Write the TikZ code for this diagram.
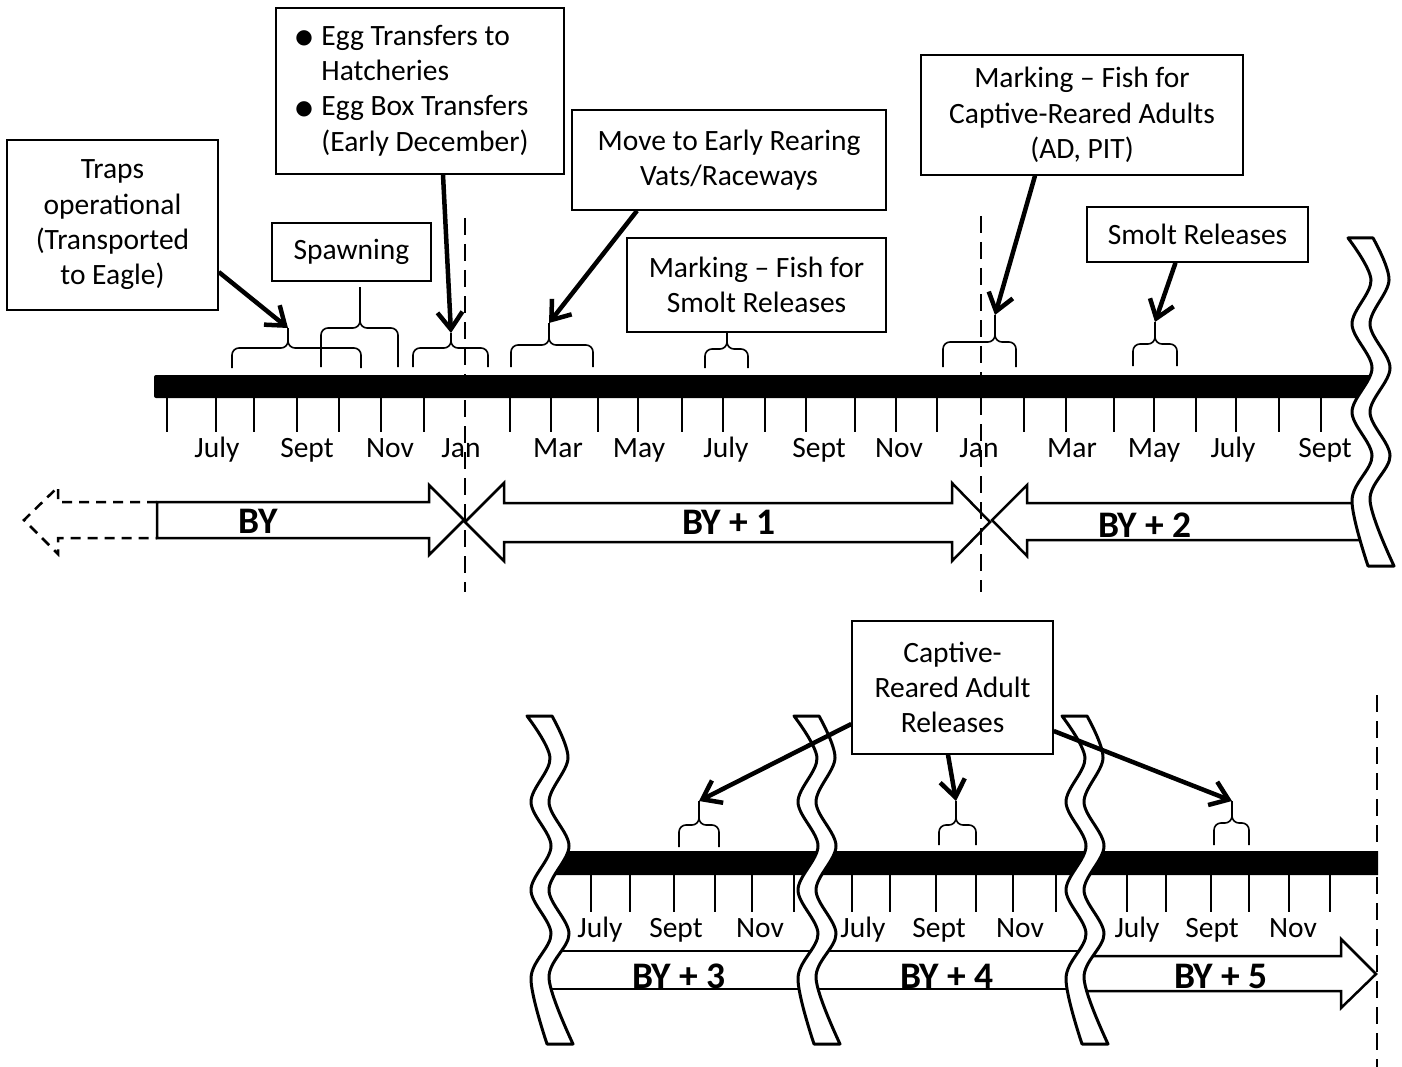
\documentclass[tikz,border=0pt]{standalone}
\usepackage{fontspec}
\setmainfont{Carlito}
\newfontfamily\dejavu{DejaVu Sans}
\usetikzlibrary{arrows.meta}
\tikzset{
  box/.style={draw, line width=1.5pt, fill=white, inner sep=0pt, align=center, font=\fontsize{29.5}{35.3}\selectfont},
  mon/.style={inner sep=0pt, anchor=base, font=\fontsize{29.5}{33}\selectfont},
  bylab/.style={inner sep=0pt, anchor=base, font=\bfseries\fontsize{37.5}{40}\selectfont},
  brc/.style={line width=1.6pt, rounded corners=7pt},
  tck/.style={line width=2pt},
  janline/.style={line width=2.2pt, dash pattern=on 17pt off 9pt},
  blk/.style={draw, line width=2.5pt, fill=white, line join=miter, miter limit=10},
  blkdash/.style={draw, line width=2.5pt, dash pattern=on 10pt off 7pt},
  arr/.style={line width=4.5pt, -{Straight Barb[length=17pt,width=25pt]}},
  brkline/.style={draw, line width=3pt, fill=white, line join=round},
}
\newcommand\mybrace[7]{%
  \draw[brc] (#2,#7) -- (#2,#5) -- (#4,#5) -- (#4,#6);
  \draw[brc] (#3,#7) -- (#3,#5) -- (#4,#5) -- (#4,#6);
  \coordinate (#1) at (#4,#6);}
\newcommand\mybreak[1]{%
  \begin{scope}[shift={#1}]
  \path[brkline] plot[smooth,tension=0.55] coordinates {(0,0) (23,42) (4,86) (24,130) (4,174) (24,218) (4,262) (20,328)}
     -- (46,328) -- plot[smooth,tension=0.55] coordinates {(46,328) (22,262) (42,218) (22,174) (42,130) (22,86) (41,42) (25,0)} -- cycle;
  \end{scope}}
\newcommand\eggbullet{\makebox[26pt][l]{\raisebox{1.5pt}{\dejavu\fontsize{20}{20}\selectfont ●}}}
\begin{document}
\begin{tikzpicture}[x=1pt,y=-1pt]
\useasboundingbox[fill=white] (0,0) rectangle (1402,1067);

% ---------- top timeline ----------
\fill[rounded corners=2pt] (154,375) -- (1378,375) -- (1366,398) -- (154,398) -- cycle;
\foreach \x in {167,216,254,297,339,381,424,510,551,598,638,682,723,765,806,855,896,937,1024,1066,1114,1154,1196,1236,1279,1321}
  \draw[tck] (\x,398) -- (\x,432);
\foreach \x/\t [count=\i] in {217/July,307/Sept,390/Nov,461/Jan,558/Mar,639/May,726/July,819/Sept,899/Nov,979/Jan,1072/Mar,1154/May,1233/July,1325/Sept}
  \node[mon] (mt\i) at (\x,457) {\t};

% BY arrows (top)
\path[blkdash] (157,502) -- (58,502) -- (58,487) -- (24,520) -- (58,554) -- (58,538) -- (157,538);
\path[blk] (157,502) -- (429,502) -- (429,485) -- (464,520) -- (429,555) -- (429,538) -- (157,538) -- cycle;
\path[blk] (465,522) -- (504,483) -- (504,503) -- (952,503) -- (952,483) -- (990,522) -- (952,561) -- (952,542) -- (504,542) -- (504,561) -- cycle;
\path[blk] (1361,503) -- (1027,503) -- (1027,485) -- (992,520) -- (1027,556) -- (1027,540) -- (1371,540);
\node[bylab] (by0) at (258,533) {BY};
\node[bylab] (by1) at (729,534) {BY + 1};
\node[bylab] (by2) at (1145,537) {BY + 2};

% ---------- bottom timeline ----------
\fill (558,851) -- (1378,851) -- (1378,875) -- (546,875) -- cycle;
\foreach \x in {591,630,674,715,752,794,852,890,936,976,1013,1056,1127,1166,1211,1249,1289,1330}
  \draw[tck] (\x,875) -- (\x,912);
\foreach \x/\t [count=\i] in {600/July,676/Sept,760/Nov,863/July,939/Sept,1020/Nov,1137/July,1212/Sept,1293/Nov}
  \node[mon] (mb\i) at (\x,937) {\t};

\draw[line width=2.5pt] (553,951) -- (1088,951);
\draw[line width=2.5pt] (542,989) -- (1077,989);
\path[blk] (1087,956) -- (1341,956) -- (1341,939) -- (1376,974) -- (1341,1008) -- (1341,991) -- (1077,991);
\node[bylab] (by3) at (679,988) {BY + 3};
\node[bylab] (by4) at (947,988) {BY + 4};
\node[bylab] (by5) at (1221,988) {BY + 5};

% ---------- breaks ----------
\mybreak{(1348,238)}
\mybreak{(527,716)}
\mybreak{(794,716)}
\mybreak{(1062,716)}

% ---------- braces ----------
\mybrace{bA}{232}{361}{288}{348}{328}{368}
\mybrace{bB}{321}{398}{360}{328}{287}{367}
\mybrace{bC}{413}{488}{451}{348}{333}{367}
\mybrace{bD}{511}{593}{549}{345}{323}{367}
\mybrace{bE}{705}{748}{727}{349}{332}{368}
\mybrace{bF}{943}{1016}{995}{342}{315}{367}
\mybrace{bG}{1133}{1177}{1155}{344}{322}{366}
\mybrace{cA}{679}{719}{699}{825}{801}{847}
\mybrace{cB}{939}{976}{956}{825}{801}{845}
\mybrace{cC}{1214}{1249}{1232}{823}{801}{845}

% ---------- boxes ----------
\node[box, minimum width=211pt, minimum height=170pt] (traps) at (112.5,225) {Traps\\operational\\(Transported\\to Eagle)};
\node[box, minimum width=288pt, minimum height=166pt] (egg) at (420,91)
  {\begin{tabular}{@{}l@{\hspace{16pt}}}
   \eggbullet Egg Transfers to\\
   \hspace*{26pt}Hatcheries\\
   \eggbullet Egg Box Transfers\\
   \hspace*{26pt}(Early December)
   \end{tabular}};
\node[box, minimum width=159pt, minimum height=58pt] (spawn) at (351.5,252) {Spawning};
\node[box, minimum width=314pt, minimum height=100pt] (move) at (729,160) {Move to Early Rearing\\Vats/Raceways};
\node[box, minimum width=259pt, minimum height=94pt] (msmolt) at (756.5,285) {Marking – Fish for\\Smolt Releases};
\node[box, minimum width=322pt, minimum height=120pt] (mcap) at (1082,115) {Marking – Fish for\\Captive-Reared Adults\\(AD, PIT)};
\node[box, minimum width=221pt, minimum height=55pt] (srel) at (1197.5,234.5) {Smolt Releases};
\node[box, minimum width=201pt, minimum height=133pt] (crel) at (952.5,687.5) {Captive-\\Reared Adult\\Releases};

% ---------- dashed year lines ----------
\draw[janline] (465,218) -- (465,592);
\draw[janline] (981,216) -- (981,592);
\draw[janline] (1377,695) -- (1377,1067);

% ---------- arrows ----------
\draw[arr] ([yshift=-47pt]traps.east) -- (bA);
\draw[arr] ([xshift=23pt]egg.south) -- (bC);
\draw[arr] ([xshift=-92pt]move.south) -- (bD);
\draw[arr] ([xshift=-47pt]mcap.south) -- (bF);
\draw[arr] ([xshift=-22pt]srel.south) -- (bG);
\draw[arr] ([yshift=-36.5pt]crel.west) -- (cA);
\draw[arr] ([xshift=-4.5pt]crel.south) -- (cB);
\draw[arr] ([yshift=-43.5pt]crel.east) -- (cC);
\end{tikzpicture}
\end{document}
